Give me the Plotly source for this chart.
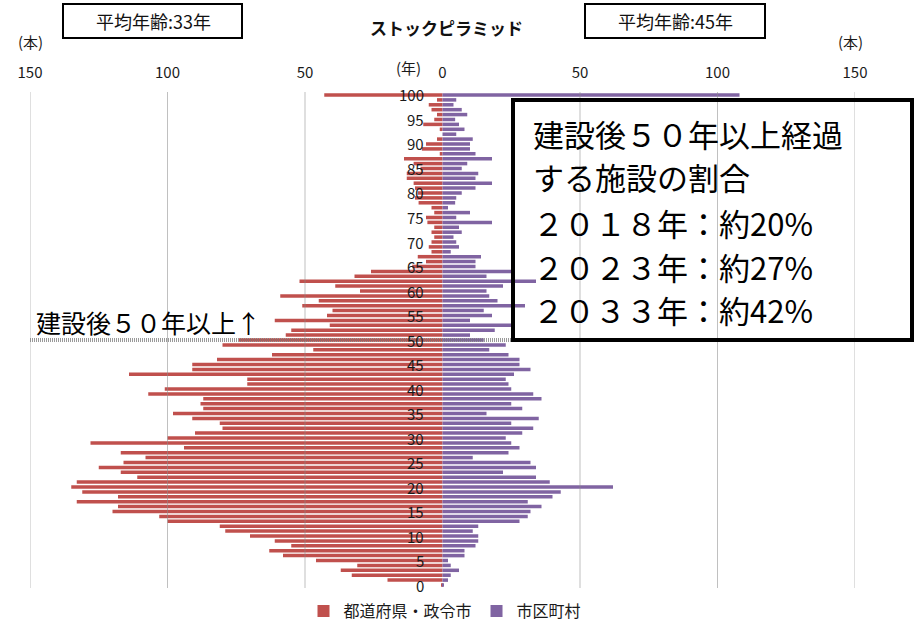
import plotly.graph_objects as go

# ---------------- data ----------------
ages = list(range(0, 101))  # 築年数 (年) 0..100

# 都道府県・政令市 (本), index = age
pref = [0.5, 20, 33, 37, 31, 46, 58, 63, 55, 61,
        70, 79, 81, 100, 103, 120, 118, 133, 118, 131,
        135, 133, 111, 117, 125, 116, 108, 117, 94, 128,
        100, 90, 80, 81, 91, 98, 87, 88, 87, 107,
        101, 71, 71, 114, 91, 91, 82, 62, 47, 80,
        74, 57, 55, 41, 61, 42, 40, 51, 45, 59,
        30, 39, 52, 32, 26, 11, 6, 9, 4, 5,
        4, 3, 4, 3, 5.5, 6, 3, 4, 8.7, 10,
        9, 10, 10.5, 13, 13, 8, 10.5, 14, 1, 7.5,
        6, 2, 0, 1, 7, 3, 2, 4, 5, 2,
        43]

# 市区町村 (本), index = age
muni = [0.3, 2, 3, 6, 3, 2, 8, 8, 12, 13,
        13, 11, 13, 28, 31, 32, 36, 31, 40, 43,
        62, 39, 34, 22, 34, 32, 11, 24, 28, 25,
        23, 29, 33, 25, 35, 16, 29, 25, 36, 33,
        25, 24, 23, 26, 32, 28, 28, 24, 17, 23,
        15, 10, 19, 25, 10, 18, 15, 30, 20, 17,
        16, 22, 34, 16, 25, 12, 12, 14, 3, 6,
        5, 4, 7, 6, 18, 5, 10, 2, 4.6, 5,
        7, 12, 18, 12, 13, 7, 9, 18, 12, 10,
        10, 11, 5, 8, 6, 4.6, 9, 7, 4, 5,
        108]

series_names = ["都道府県・政令市", "市区町村"]
series_colors = ["#C0504D", "#8064A2"]

x_tickvals = [-150, -100, -50, 0, 50, 100, 150]
x_ticktext = ["150", "100", "50", "0", "50", "100", "150"]
grid_vals = [-150, -100, -50, 50, 100, 150]
age_ticks = list(range(0, 101, 5))

title_text = "ストックピラミッド"
avg_left = "平均年齢:33年"
avg_right = "平均年齢:45年"
note_lines = ["建設後５０年以上経過", "する施設の割合",
              "２０１８年：約20%", "２０２３年：約27%", "２０３３年：約42%"]
marker_text = "建設後５０年以上↑"

# ---------------- layout helpers ----------------
W, H = 915, 622
L, R, T, B = 30, 855, 92, 588
FONT = "Noto Sans CJK JP"


def px(x):
    return (x - L) / (R - L)


def py(y):
    return (B - y) / (B - T)


def label(x, y, text, size, xanchor="center", color="#1a1a1a"):
    return dict(x=px(x), y=py(y), xref="paper", yref="paper", text=text, showarrow=False,
                xanchor=xanchor, yanchor="middle",
                font=dict(size=size, color=color, family=FONT))


fig = go.Figure()
fig.add_trace(go.Bar(y=ages, x=[-v for v in pref], orientation="h",
                     name=series_names[0], marker_color=series_colors[0],
                     marker_line_width=0, hoverinfo="skip"))
fig.add_trace(go.Bar(y=ages, x=muni, orientation="h",
                     name=series_names[1], marker_color=series_colors[1],
                     marker_line_width=0, hoverinfo="skip"))

shapes = []
for g in grid_vals:
    shapes.append(dict(type="line", xref="x", yref="paper", x0=g, x1=g, y0=0, y1=1,
                       line=dict(color="rgba(140,140,140,0.55)", width=1), layer="above"))
# 50-year line
shapes.append(dict(type="line", xref="paper", yref="y", x0=px(30), x1=px(912), y0=50, y1=50,
                   line=dict(color="rgba(120,120,120,0.75)", width=4, dash="1px,1px"), layer="above"))
# note box
shapes.append(dict(type="rect", xref="paper", yref="paper", x0=px(513), x1=px(912),
                   y0=py(340), y1=py(100), line=dict(color="black", width=4),
                   fillcolor="rgba(0,0,0,0)", layer="above"))
# average-age boxes
for (x0, x1) in [(63, 242), (585, 765)]:
    shapes.append(dict(type="rect", xref="paper", yref="paper", x0=px(x0), x1=px(x1),
                       y0=py(38), y1=py(4), line=dict(color="black", width=2),
                       fillcolor="rgba(0,0,0,0)", layer="above"))

ann = []
for a in age_ticks:
    ann.append(dict(x=-6, y=a, xref="x", yref="y", text=str(a), showarrow=False,
                    xanchor="right", yanchor="middle",
                    font=dict(size=15, color="#1a1a1a", family=FONT)))
ann.append(label(408, 67, "(年)", 15))
ann.append(label(30, 41, "(本)", 15))
ann.append(label(850, 41, "(本)", 15))
ann.append(label(446, 28, "<b>" + title_text + "</b>", 17, color="#111"))
ann.append(label(153, 21, avg_left, 18, color="#111"))
ann.append(label(675, 21, avg_right, 18, color="#111"))
for txt, yy in zip(note_lines, [133, 176, 222, 266, 309]):
    ann.append(label(531, yy, txt, 31, xanchor="left", color="black"))
ann.append(label(34, 322, marker_text, 25, xanchor="left", color="black"))

fig.update_layout(
    width=W, height=H, autosize=False,
    margin=dict(l=L, r=W - R, t=T, b=H - B, pad=0, autoexpand=False),
    paper_bgcolor="white", plot_bgcolor="white",
    barmode="relative", bargap=0.28,
    font=dict(family=FONT, color="#1a1a1a"),
    showlegend=True,
    legend=dict(orientation="h", x=px(445), xanchor="center", y=py(611), yanchor="middle",
                font=dict(size=16, family=FONT, color="#1a1a1a"), bgcolor="rgba(0,0,0,0)",
                traceorder="normal"),
    shapes=shapes, annotations=ann,
    xaxis=dict(range=[-150, 150], side="top", tickvals=x_tickvals, ticktext=x_ticktext,
               showgrid=False, zeroline=False, showline=False, ticks="", automargin=False,
               ticklabelstandoff=10, tickfont=dict(size=15, color="#1a1a1a", family=FONT),
               fixedrange=True),
    yaxis=dict(range=[-0.61, 100.61], showticklabels=False, showgrid=False, zeroline=False,
               showline=False, ticks="", automargin=False, fixedrange=True),
)

fig.write_html("out.html", config={"displayModeBar": False},
               post_script="document.body.style.margin='0';document.body.style.overflow='hidden';")
